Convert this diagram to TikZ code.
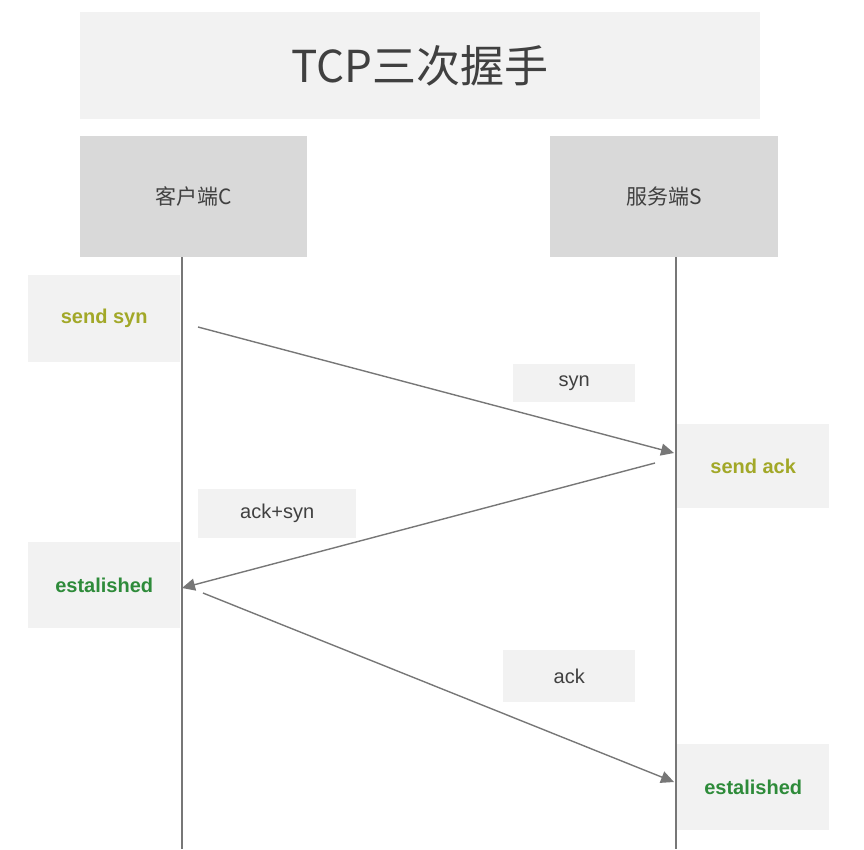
\documentclass[tikz,border=0pt]{standalone}
\usepackage{fontspec}
\setmainfont{Liberation Sans}
\newfontfamily\cjk{Noto Sans CJK SC}
\usetikzlibrary{arrows.meta}
\definecolor{boxgray}{HTML}{F2F2F2}
\definecolor{headgray}{HTML}{D9D9D9}
\definecolor{linegray}{HTML}{777777}
\definecolor{textgray}{HTML}{404040}
\definecolor{sendolive}{HTML}{A2A828}
\definecolor{estgreen}{HTML}{2E8B3A}

\begin{document}
\begin{tikzpicture}[
    x=1pt, y=-1pt,
    panel/.style={anchor=north west, inner sep=0pt, align=center, text=textgray},
    title/.style={panel, fill=boxgray, font=\cjk\fontsize{44}{50}\selectfont},
    host/.style={panel, fill=headgray, font=\cjk\fontsize{21}{25}\selectfont},
    state/.style={panel, fill=boxgray, font=\fontsize{20}{24}\selectfont\bfseries},
    tag/.style={panel, fill=boxgray, font=\fontsize{20}{24}\selectfont},
    life/.style={linegray, line width=1.1pt},
    msg/.style={-{Triangle[length=13pt, width=12pt]}, linegray, line width=1.4pt}
]
\useasboundingbox (0,0) rectangle (864,849);

% lifelines
\coordinate (ctop) at (182,257);
\coordinate (cbot) at (182,849);
\coordinate (stop) at (676,257);
\coordinate (sbot) at (676,849);
\draw[life] (ctop) -- (cbot);
\draw[life] (stop) -- (sbot);

\node[title, minimum width=680pt, minimum height=107pt] (head) at (80,12) {TCP三次握手};
\node[host, minimum width=227pt, minimum height=121pt] (client) at (80,136) {客户端C};
\node[host, minimum width=228pt, minimum height=121pt] (server) at (550,136) {服务端S};

\node[state, text=sendolive, minimum width=152pt, minimum height=87pt] (sendsyn) at (28,275) {send syn};
\node[state, text=sendolive, minimum width=152pt, minimum height=84pt] (sendack) at (677,424) {send ack};
\node[state, text=estgreen, minimum width=152pt, minimum height=86pt] (estc) at (28,542) {estalished};
\node[state, text=estgreen, minimum width=152pt, minimum height=86pt] (ests) at (677,744) {estalished};

\node[tag, minimum width=122pt, minimum height=38pt] (syn) at (513,364) {syn};
\node[tag, minimum width=158pt, minimum height=49pt] (acksyn) at (198,489) {ack+syn};
\node[tag, minimum width=132pt, minimum height=52pt] (ack) at (503,650) {ack};

% messages
\coordinate (m1a) at (198,327);
\coordinate (m1b) at (674,453);
\coordinate (m2a) at (655,463);
\coordinate (m2b) at (182,588);
\coordinate (m3a) at (203,593);
\coordinate (m3b) at (674,782);
\draw[msg] (m1a) -- (m1b);
\draw[msg] (m2a) -- (m2b);
\draw[msg] (m3a) -- (m3b);
\end{tikzpicture}
\end{document}
